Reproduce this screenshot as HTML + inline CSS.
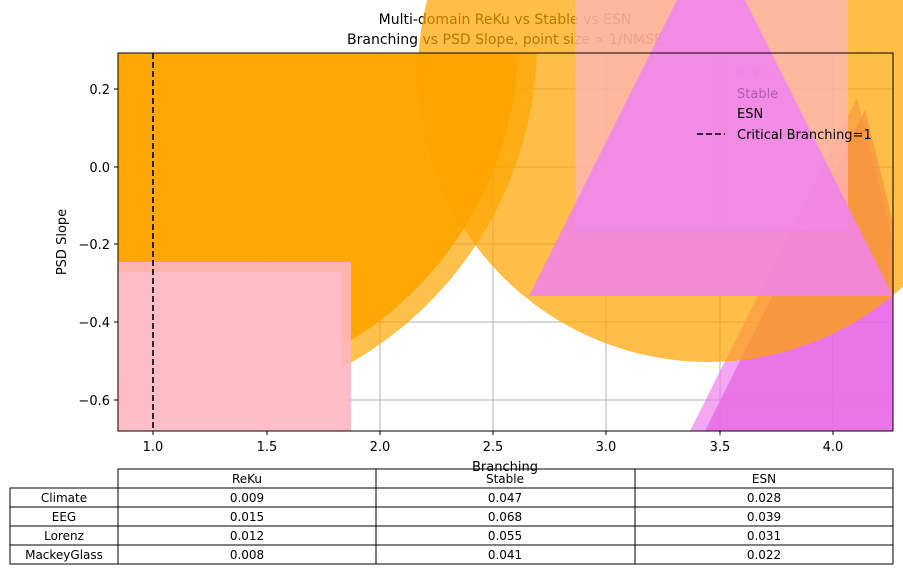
<!DOCTYPE html>
<html><head><meta charset="utf-8"><style>
html,body{margin:0;background:#fff;width:903px;height:573px;overflow:hidden;}
svg{display:block;font-family:"DejaVu Sans","Liberation Sans",sans-serif;}
</style></head><body>
<svg width="903" height="573" viewBox="0 0 903 573" xmlns="http://www.w3.org/2000/svg">
<defs><clipPath id="ax"><rect x="118" y="53" width="775" height="378"/></clipPath></defs>
<rect width="903" height="573" fill="#fff"/>
<g font-size="14" text-anchor="middle" fill="#000">
<text x="505" y="24">Multi-domain ReKu vs Stable vs ESN</text>
<text x="505" y="44">Branching vs PSD Slope, point size ∝ 1/NMSE</text>
</g>
<g stroke="#b0b0b0" stroke-width="1">
<line x1="153" y1="53" x2="153" y2="431"/><line x1="267" y1="53" x2="267" y2="431"/><line x1="380" y1="53" x2="380" y2="431"/><line x1="493" y1="53" x2="493" y2="431"/><line x1="606" y1="53" x2="606" y2="431"/><line x1="720" y1="53" x2="720" y2="431"/><line x1="833" y1="53" x2="833" y2="431"/>
<line x1="118" y1="89" x2="893" y2="89"/><line x1="118" y1="167" x2="893" y2="167"/><line x1="118" y1="244" x2="893" y2="244"/><line x1="118" y1="322" x2="893" y2="322"/><line x1="118" y1="400" x2="893" y2="400"/>
</g>
<g clip-path="url(#ax)">
<circle cx="166" cy="41" r="371" fill="rgba(255,165,0,0.7)"/>
<circle cx="166" cy="41" r="352" fill="rgba(255,165,0,0.95)"/>
<rect x="118" y="262" width="233" height="200" fill="rgba(255,182,193,0.9)"/>
<rect x="118" y="272" width="223" height="200" fill="rgba(255,190,200,0.95)"/>
<polygon points="690,431 857,98 1024,764" fill="rgba(238,130,238,0.7)"/>
<polygon points="705,431 865,110 1025,750" fill="rgba(230,100,230,0.75)"/>
</g>
<circle cx="708" cy="72" r="290" fill="rgba(255,165,0,0.72)"/>
<rect x="575" y="0" width="273" height="230" fill="rgba(255,182,193,0.72)"/>
<polygon points="711,-68 529,296 893,296" fill="rgba(238,130,238,0.85)"/>
<line x1="153" y1="53" x2="153" y2="431" stroke="#000" stroke-width="1.6" stroke-dasharray="6,3"/>
<rect x="118" y="53" width="775" height="378" fill="none" stroke="#000" stroke-width="1"/>
<g font-size="13">
<text x="737" y="78" fill="rgba(238,130,238,0.6)">ReKu</text>
<text x="737" y="98" fill="rgba(160,80,160,0.8)">Stable</text>
<text x="737" y="118" fill="#000">ESN</text>
<text x="737" y="139" fill="#000">Critical Branching=1</text>
</g>
<line x1="697" y1="134" x2="725" y2="134" stroke="#000" stroke-width="1.6" stroke-dasharray="6,3"/>
<g stroke="#000">
<line x1="153" y1="431" x2="153" y2="435"/><line x1="267" y1="431" x2="267" y2="435"/><line x1="380" y1="431" x2="380" y2="435"/><line x1="493" y1="431" x2="493" y2="435"/><line x1="606" y1="431" x2="606" y2="435"/><line x1="720" y1="431" x2="720" y2="435"/><line x1="833" y1="431" x2="833" y2="435"/>
<line x1="114" y1="89" x2="118" y2="89"/><line x1="114" y1="167" x2="118" y2="167"/><line x1="114" y1="244" x2="118" y2="244"/><line x1="114" y1="322" x2="118" y2="322"/><line x1="114" y1="400" x2="118" y2="400"/>
</g>
<g font-size="13" text-anchor="middle">
<text x="153" y="451">1.0</text><text x="267" y="451">1.5</text><text x="380" y="451">2.0</text><text x="493" y="451">2.5</text><text x="606" y="451">3.0</text><text x="720" y="451">3.5</text><text x="833" y="451">4.0</text>
<text x="505" y="471">Branching</text>
</g>
<g font-size="13" text-anchor="end">
<text x="110" y="94">0.2</text><text x="110" y="172">0.0</text><text x="110" y="249">−0.2</text><text x="110" y="327">−0.4</text><text x="110" y="405">−0.6</text>
</g>
<text transform="translate(66,242) rotate(-90)" font-size="13" text-anchor="middle">PSD Slope</text>
<g fill="none" stroke="#000" stroke-width="1">
<rect x="118" y="469" width="775" height="19"/>
<rect x="10" y="488" width="883" height="76"/>
<line x1="10" y1="507" x2="893" y2="507"/><line x1="10" y1="526" x2="893" y2="526"/><line x1="10" y1="545" x2="893" y2="545"/>
<line x1="118" y1="469" x2="118" y2="564"/><line x1="376" y1="469" x2="376" y2="564"/><line x1="635" y1="469" x2="635" y2="564"/>
</g>
<g font-size="12" text-anchor="middle">
<text x="247" y="483">ReKu</text><text x="505" y="483">Stable</text><text x="764" y="483">ESN</text>
<text x="64" y="502">Climate</text><text x="247" y="502">0.009</text><text x="505" y="502">0.047</text><text x="764" y="502">0.028</text>
<text x="64" y="521">EEG</text><text x="247" y="521">0.015</text><text x="505" y="521">0.068</text><text x="764" y="521">0.039</text>
<text x="64" y="540">Lorenz</text><text x="247" y="540">0.012</text><text x="505" y="540">0.055</text><text x="764" y="540">0.031</text>
<text x="64" y="559">MackeyGlass</text><text x="247" y="559">0.008</text><text x="505" y="559">0.041</text><text x="764" y="559">0.022</text>
</g>
</svg>
</body></html>
